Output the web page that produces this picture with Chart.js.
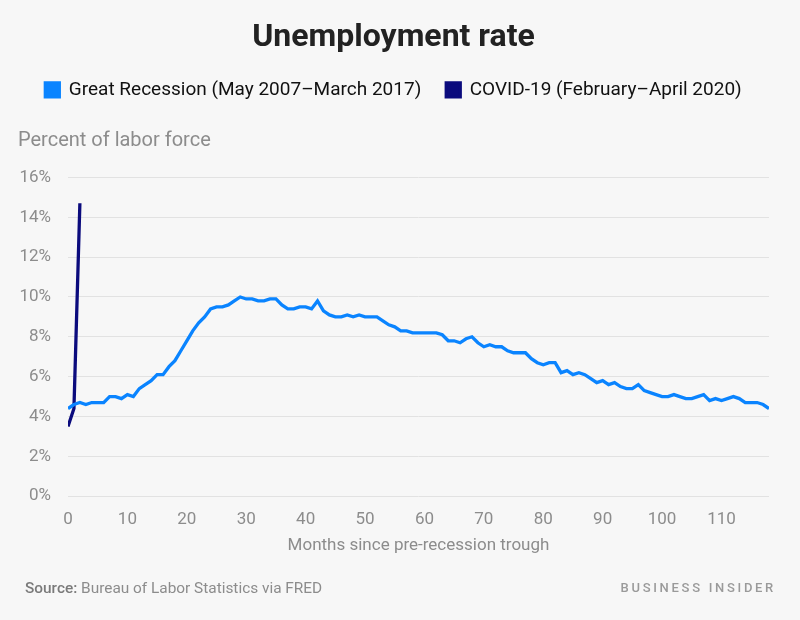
<!DOCTYPE html>
<html>
<head>
<meta charset="utf-8">
<title>Unemployment rate</title>
<script src="https://cdn.jsdelivr.net/npm/chart.js@4.4.1/dist/chart.umd.min.js"></script>
<style>
  html, body { margin: 0; padding: 0; background: #f7f7f7; }
  #wrap { width: 800px; height: 620px; }
</style>
</head>
<body>
<div id="wrap"><canvas id="chart" width="800" height="620"></canvas></div>
<script>
// ==========================
// Data (monthly unemployment rate, %)
// ==========================
const recessionLabel = "Great Recession (May 2007\u2013March 2017)";
const covidLabel = "COVID-19 (February\u2013April 2020)";

// May 2007 .. March 2017, month 0 = May 2007
const recessionRates = [
    4.4, 4.6, 4.7, 4.6, 4.7, 4.7, 4.7, 5.0,
    5.0, 4.9, 5.1, 5.0, 5.4, 5.6, 5.8, 6.1, 6.1, 6.5, 6.8, 7.3,
    7.8, 8.3, 8.7, 9.0, 9.4, 9.5, 9.5, 9.6, 9.8, 10.0, 9.9, 9.9,
    9.8, 9.8, 9.9, 9.9, 9.6, 9.4, 9.4, 9.5, 9.5, 9.4, 9.8, 9.3,
    9.1, 9.0, 9.0, 9.1, 9.0, 9.1, 9.0, 9.0, 9.0, 8.8, 8.6, 8.5,
    8.3, 8.3, 8.2, 8.2, 8.2, 8.2, 8.2, 8.1, 7.8, 7.8, 7.7, 7.9,
    8.0, 7.7, 7.5, 7.6, 7.5, 7.5, 7.3, 7.2, 7.2, 7.2, 6.9, 6.7,
    6.6, 6.7, 6.7, 6.2, 6.3, 6.1, 6.2, 6.1, 5.9, 5.7, 5.8, 5.6,
    5.7, 5.5, 5.4, 5.4, 5.6, 5.3, 5.2, 5.1, 5.0, 5.0, 5.1, 5.0,
    4.9, 4.9, 5.0, 5.1, 4.8, 4.9, 4.8, 4.9, 5.0, 4.9, 4.7, 4.7,
    4.7, 4.6, 4.4
];

// February .. April 2020
const covidRates = [3.5, 4.4, 14.7];

const yTicks = [0, 2, 4, 6, 8, 10, 12, 14, 16];
const xTicks = [0, 10, 20, 30, 40, 50, 60, 70, 80, 90, 100, 110];

const FONT = "Roboto, 'Liberation Sans', sans-serif";
const GRAY = "#8c8c8c";

// ==========================
// Footer text (source + brand)
// ==========================
const footerPlugin = {
    id: "footer",
    afterDraw(chart) {
        const ctx = chart.ctx;
        ctx.save();
        ctx.textBaseline = "middle";
        ctx.textAlign = "left";
        ctx.fillStyle = "#7a7a7a";
        ctx.font = "500 15.4px " + FONT;
        ctx.fillText("Source:", 25, 589);
        const w = ctx.measureText("Source: ").width;
        ctx.fillStyle = "#8c8c8c";
        ctx.font = "400 15.4px " + FONT;
        ctx.fillText("Bureau of Labor Statistics via FRED", 25 + w, 589);

        ctx.textAlign = "right";
        ctx.fillStyle = "#9a9a9a";
        ctx.font = "500 13px " + FONT;
        ctx.letterSpacing = "2.7px";
        ctx.fillText("BUSINESS INSIDER", 776, 589);
        ctx.restore();
    }
};

const bgPlugin = {
    id: "bg",
    beforeDraw(chart) {
        const ctx = chart.ctx;
        ctx.save();
        ctx.fillStyle = "#f7f7f7";
        ctx.fillRect(0, 0, chart.width, chart.height);
        ctx.restore();
    }
};

// ==========================
// Chart
// ==========================
new Chart(document.getElementById("chart"), {
    type: "line",
    data: {
        datasets: [
            {
                label: recessionLabel,
                data: recessionRates.map((v, i) => ({ x: i, y: v })),
                borderColor: "#0a84ff",
                backgroundColor: "#0a84ff",
                borderWidth: 3.3,
                pointRadius: 0,
                tension: 0
            },
            {
                label: covidLabel,
                data: covidRates.map((v, i) => ({ x: i, y: v })),
                borderColor: "#0b0b7d",
                backgroundColor: "#0b0b7d",
                borderWidth: 3.3,
                pointRadius: 0,
                tension: 0
            }
        ]
    },
    options: {
        responsive: false,
        animation: false,
        layout: { padding: { left: 18, right: 31, top: 0, bottom: 64 } },
        plugins: {
            title: {
                display: true,
                text: "Unemployment rate",
                color: "#222",
                font: { family: FONT, size: 32, weight: "bold" },
                padding: { top: 19, bottom: -2 }
            },
            legend: {
                display: true,
                weight: 1800,
                labels: {
                    boxWidth: 14,
                    boxHeight: 14,
                    padding: 25,
                    color: "#111",
                    font: { family: FONT, size: 19 }
                }
            },
            subtitle: {
                display: true,
                text: "Percent of labor force",
                align: "start",
                color: GRAY,
                font: { family: FONT, size: 20 },
                padding: { top: 20, bottom: 24 }
            },
            tooltip: { enabled: false }
        },
        scales: {
            x: {
                type: "linear",
                min: 0,
                max: 118,
                border: { display: false },
                grid: { display: false, drawTicks: false },
                afterBuildTicks(scale) {
                    scale.ticks = xTicks.map(v => ({ value: v }));
                },
                ticks: {
                    color: GRAY,
                    padding: 13,
                    maxRotation: 0,
                    font: { family: FONT, size: 17 }
                },
                title: {
                    display: true,
                    text: "Months since pre-recession trough",
                    color: GRAY,
                    font: { family: FONT, size: 17 },
                    padding: { top: -7, bottom: 0 }
                }
            },
            y: {
                min: 0,
                max: 16,
                border: { display: false },
                grid: { color: "#e2e2e2", lineWidth: 1, drawTicks: false },
                afterBuildTicks(scale) {
                    scale.ticks = yTicks.map(v => ({ value: v }));
                },
                afterFit(scale) {
                    scale.width = 50;
                },
                ticks: {
                    color: GRAY,
                    padding: 17,
                    font: { family: FONT, size: 17 },
                    callback: v => v + "%"
                }
            }
        }
    },
    plugins: [bgPlugin, footerPlugin]
});
</script>
</body>
</html>
